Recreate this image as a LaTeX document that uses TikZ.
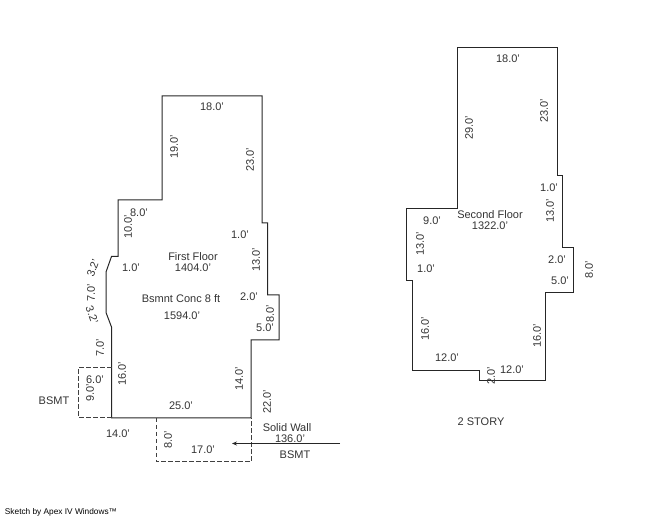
\documentclass[tikz,border=0pt]{standalone}
\usepackage{fontspec}
\setmainfont{Liberation Sans}
\usepackage{tikz}
\usetikzlibrary{arrows.meta}
\tikzset{
  dim/.style={font=\fontsize{11}{11}\selectfont, text=black!80, inner sep=0pt},
  vdim/.style={dim, rotate=90},
  wall/.style={draw=black!85, line width=1pt},
  bsmtwall/.style={draw=black!75, line width=1pt, dash pattern=on 4.5pt off 2.5pt},
}
\begin{document}
\begin{tikzpicture}[x=1pt, y=-1pt]
        \useasboundingbox (0, 0) rectangle (649, 518);
        % first floor
        \draw[wall] (162, 96) -- (262, 96) -- (262, 223) -- (267.5, 223) -- (267.5, 295) -- (279, 295)
            -- (279, 340) -- (251, 340) -- (251, 418) -- (111.5, 418) -- (111.5, 327) -- (106, 312.5)
            -- (106, 272) -- (111.5, 256.5) -- (118, 256.5) -- (118, 200) -- (162, 200) -- cycle;
        % basement
        \draw[bsmtwall] (111.5, 367.5) -- (78.5, 367.5) -- (78.5, 418) -- (111.5, 418);
        \draw[bsmtwall] (156, 418) -- (156, 462) -- (251, 462) -- (251, 418);
        % second floor
        \draw[wall] (457.5, 47.5) -- (557, 47.5) -- (557, 176) -- (562.5, 176) -- (562.5, 248) -- (573.5, 248)
            -- (573.5, 292.5) -- (545.5, 292.5) -- (545.5, 381) -- (479, 381) -- (479, 371) -- (412.5, 371)
            -- (412.5, 281) -- (406, 281) -- (406, 209) -- (457.5, 209) -- cycle;
        % first floor labels
        \node[dim] (top1) at (212, 107) {18.0'};
        \node[vdim] (left1) at (174, 147) {19.0'};
        \node[vdim] (right1) at (250, 160) {23.0'};
        \node[vdim] (step1) at (128, 227) {10.0'};
        \node[dim] (step2) at (139, 213) {8.0'};
        \node[dim] (step3) at (131, 268) {1.0'};
        \node[dim] (first) at (193, 257) {First Floor};
        \node[dim] (firstarea) at (193, 268) {1404.0'};
        \node[dim] (bsmnt) at (181, 299) {Bsmnt Conc 8 ft};
        \node[dim] (bsmntarea) at (182, 316) {1594.0'};
        \node[dim, rotate=70] (bay1) at (93, 268) {3.2'};
        \node[vdim] (bay2) at (91, 293) {7.0'};
        \node[dim, rotate=-70] (bay3) at (92, 315) {3.2'};
        \node[dim] (right2) at (240, 235) {1.0'};
        \node[vdim] (right3) at (256, 260) {13.0'};
        \node[dim] (right4) at (249, 297) {2.0'};
        \node[vdim] (right5) at (270, 314) {8.0'};
        \node[dim] (right6) at (265, 328) {5.0'};
        \node[vdim] (right7) at (239, 379) {14.0'};
        \node[vdim] (left2) at (122, 374) {16.0'};
        \node[vdim] (left3) at (100, 348) {7.0'};
        \node[dim] (bottom1) at (181, 406) {25.0'};
        % basement labels
        \node[dim] (west1) at (95, 380) {6.0'};
        \node[vdim] (west2) at (90, 393) {9.0'};
        \node[dim] (west3) at (54, 401) {BSMT};
        \node[dim] (south1) at (118, 434) {14.0'};
        \node[vdim] (south2) at (168, 440) {8.0'};
        \node[dim] (south3) at (203, 450) {17.0'};
        \node[vdim] (south4) at (267, 402) {22.0'};
        \node[dim] (wallname) at (287, 428) {Solid Wall};
        \node[dim] (wallarea) at (290, 439) {136.0'};
        \node[dim] (wallbsmt) at (295, 455) {BSMT};
        % second floor labels
        \node[dim] (top2) at (508, 59) {18.0'};
        \node[vdim] (up1) at (469, 128) {29.0'};
        \node[vdim] (up2) at (544, 111) {23.0'};
        \node[dim] (up3) at (549, 188) {1.0'};
        \node[vdim] (up4) at (550, 211) {13.0'};
        \node[dim] (up5) at (557, 260) {2.0'};
        \node[vdim] (up6) at (589, 270) {8.0'};
        \node[dim] (up7) at (560, 281) {5.0'};
        \node[vdim] (up8) at (537, 336) {16.0'};
        \node[dim] (up9) at (512, 370) {12.0'};
        \node[vdim] (up10) at (491, 376) {2.0'};
        \node[dim] (up11) at (447, 358) {12.0'};
        \node[vdim] (up12) at (425, 329) {16.0'};
        \node[dim] (up13) at (426, 269) {1.0'};
        \node[vdim] (up14) at (420, 244) {13.0'};
        \node[dim] (up15) at (432, 221) {9.0'};
        \node[dim] (second) at (490, 215) {Second Floor};
        \node[dim] (secondarea) at (490, 226) {1322.0'};
        \node[dim] (story) at (481, 422) {2 STORY};
        \node[dim, font=\fontsize{8.3}{8.3}\selectfont, text=black] (credit) at (61, 512) {Sketch by Apex IV Windows™};
        % arrow
        \coordinate (tail) at (340, 443.5);
        \coordinate (head) at (232, 443.5);
        \draw[-{Stealth[length=5pt, width=4pt]}, line width=0.8pt, black!85] (tail) -- (head);
\end{tikzpicture}
\end{document}
